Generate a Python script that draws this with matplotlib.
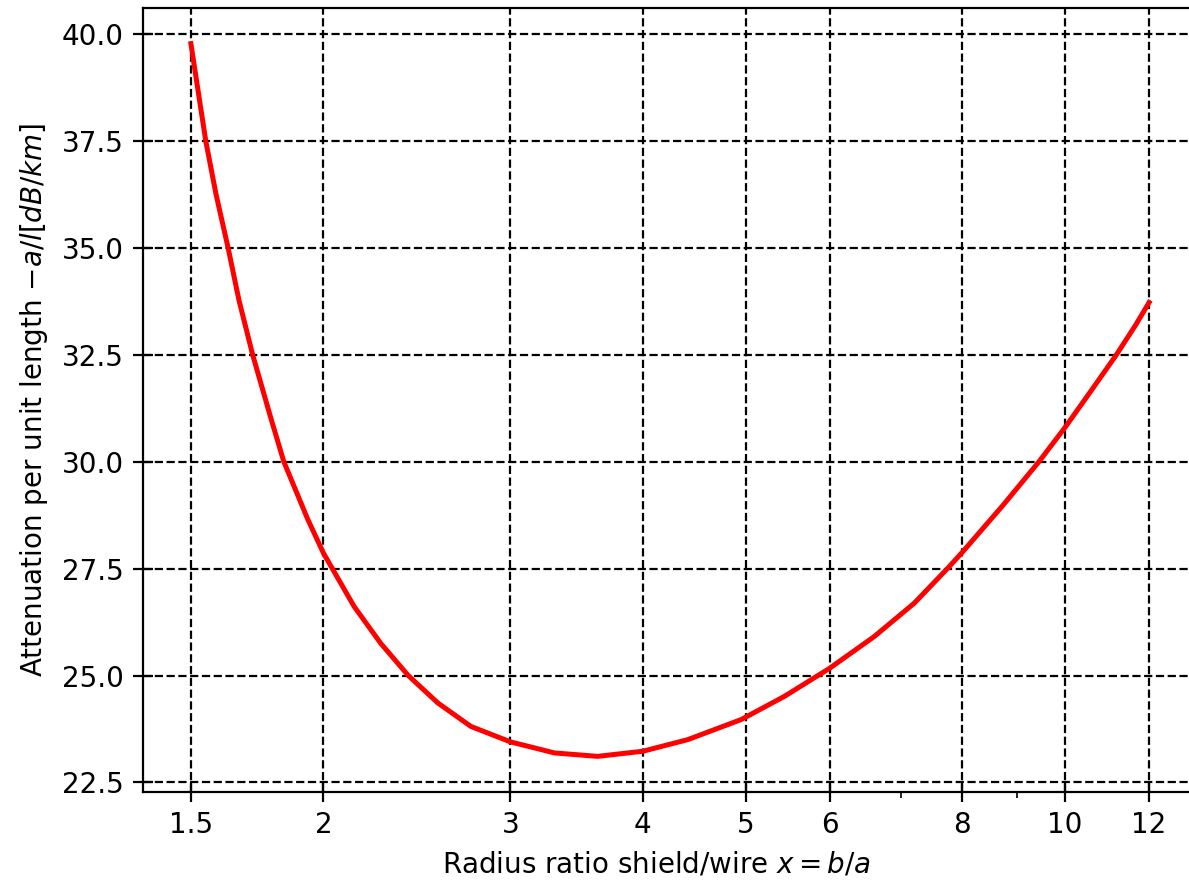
import matplotlib
matplotlib.use('Agg')
import matplotlib.pyplot as plt
import numpy as np
from matplotlib.ticker import NullFormatter

# radius ratio b/a and attenuation
ratio = [1.5, 1.549, 1.584, 1.626, 1.665, 1.715, 1.785, 1.835, 1.933, 2.0,
         2.138, 2.265, 2.404, 2.563, 2.754, 3.0, 3.302, 3.626, 4.0, 4.408,
         4.951, 5.436, 6.0, 6.608, 7.208, 7.76, 8.0, 8.74, 9.45, 10.0,
         10.57, 11.18, 11.66, 12.0]
atten = [39.77, 37.5, 36.25, 35.0, 33.77, 32.5, 31.0, 30.0, 28.65, 27.86,
         26.61, 25.75, 25.0, 24.36, 23.81, 23.45, 23.19, 23.11, 23.23, 23.50,
         23.97, 24.51, 25.17, 25.91, 26.69, 27.52, 27.88, 28.98, 30.0, 30.80,
         31.64, 32.5, 33.2, 33.72]

xticks = [1.5, 2, 3, 4, 5, 6, 8, 10, 12]
xticklabels = ['1.5', '2', '3', '4', '5', '6', '8', '10', '12']

W, H = 1189, 882
fig = plt.figure(figsize=(W / 200, H / 200), dpi=200)
ax = fig.add_axes([143 / W, (H - 792) / H, (1197 - 143) / W, (792 - 8) / H])

ax.plot(ratio, atten, color='red', linewidth=1.8)
ax.set_xscale('log')
ax.set_xticks(xticks)
ax.set_xticklabels(xticklabels)
ax.xaxis.set_minor_formatter(NullFormatter())
ax.tick_params(which='major', direction='inout', length=7)
ax.tick_params(which='minor', direction='out', length=2)

ax.grid(True, which='major', color='black', linestyle='--', linewidth=0.8)
ax.set_xlabel('Radius ratio shield/wire $x=b/a$')
ax.xaxis.label.set_x(0.487)
ax.set_ylabel('Attenuation per unit length $-a/l [dB/km]$')

fig.savefig('out.png', dpi=200)
